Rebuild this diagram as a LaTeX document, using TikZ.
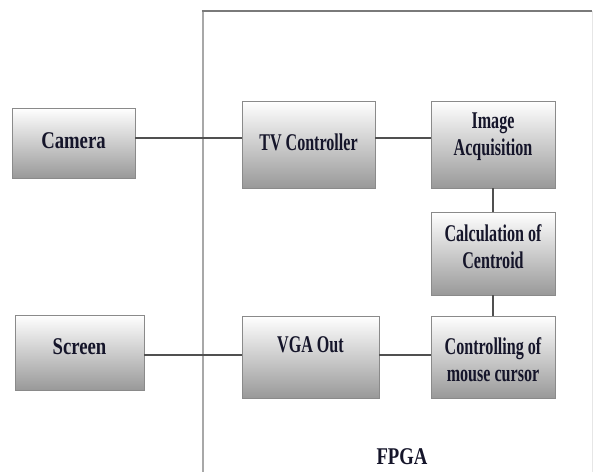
\documentclass[tikz,border=0pt]{standalone}
\usepackage{fontspec}
\setmainfont{Liberation Serif}
\newfontfamily\narrowfont{Liberation Serif}[FakeStretch=0.67]
\newfontfamily\widefont{Liberation Serif}[FakeStretch=0.78]
\usetikzlibrary{shadows}
\definecolor{boxborder}{HTML}{8A8A8A}
\definecolor{boxbottom}{HTML}{999999}
\definecolor{wirecol}{HTML}{505050}
\definecolor{txtcol}{HTML}{15152A}
\definecolor{frameleft}{HTML}{A8A8A8}
\definecolor{frametop}{HTML}{7A7A7A}
\definecolor{frameright}{HTML}{E6E6E6}
\begin{document}
\begin{tikzpicture}[x=1pt,y=-1pt,
  blk/.style={draw=boxborder, line width=0.9pt, top color=white, bottom color=boxbottom,
    inner sep=0pt, drop shadow={shadow xshift=1.2pt, shadow yshift=-1.2pt, fill=black, opacity=0.25}},
  txt/.style={text=txtcol, align=center, inner sep=0pt,
    font=\narrowfont\bfseries\fontsize{24}{27}\selectfont},
  wtxt/.style={txt, font=\widefont\bfseries\fontsize{24}{27}\selectfont},
  wire/.style={draw=wirecol, line width=1.2pt}]
\useasboundingbox (0,0) rectangle (593,471);
\fill[white] (0,0) rectangle (593,471);

% FPGA frame
\coordinate (fnw) at (203,11);
\coordinate (fne) at (592,11);
\coordinate (fsw) at (203,480);
\coordinate (fse) at (592,480);
\draw[frameright, line width=1pt] (fne) -- (fse);
\draw[frameleft, line width=2.4pt] (fnw) -- (fsw);
\draw[frametop, line width=1.5pt] ([xshift=-1.2pt]fnw) -- (fne);
\node[wtxt] (fpga) at (402,457) {FPGA};

% boxes
\node[blk, minimum width=123pt, minimum height=70pt] (cam) at (73.5,143) {};
\node[blk, minimum width=133pt, minimum height=87pt] (tv) at (308.5,144.5) {};
\node[blk, minimum width=124pt, minimum height=87pt] (ia) at (493,144.5) {};
\node[blk, minimum width=124pt, minimum height=83pt] (calc) at (493,253.5) {};
\node[blk, minimum width=124pt, minimum height=82pt] (ctrl) at (493,357) {};
\node[blk, minimum width=137pt, minimum height=82pt] (vga) at (310.5,357) {};
\node[blk, minimum width=129pt, minimum height=75pt] (scr) at (79.5,352.5) {};

% texts
\node[wtxt] (camt) at (73.5,141) {Camera};
\node[txt] (tvt) at (308.5,142) {TV Controller};
\node[txt] (iat) at (493,136.5) {Image\\Acquisition};
\node[txt] (calct) at (493,246.5) {Calculation of\\Centroid};
\node[txt] (ctrlt) at (493,360) {Controlling of\\mouse cursor};
\node[txt] (vgat) at (310.5,345) {VGA Out};
\node[wtxt] (scrt) at (79.5,347) {Screen};

% connectors
\draw[wire] (cam.east |- 0,138) -- (tv.west |- 0,138);
\draw[wire] (tv.east |- 0,138) -- (ia.west |- 0,138);
\draw[wire] (ia.south) -- (calc.north);
\draw[wire] (calc.south) -- (ctrl.north);
\draw[wire] (scr.east |- 0,355) -- (vga.west |- 0,355);
\draw[wire] (vga.east |- 0,355) -- (ctrl.west |- 0,355);
\end{tikzpicture}
\end{document}
